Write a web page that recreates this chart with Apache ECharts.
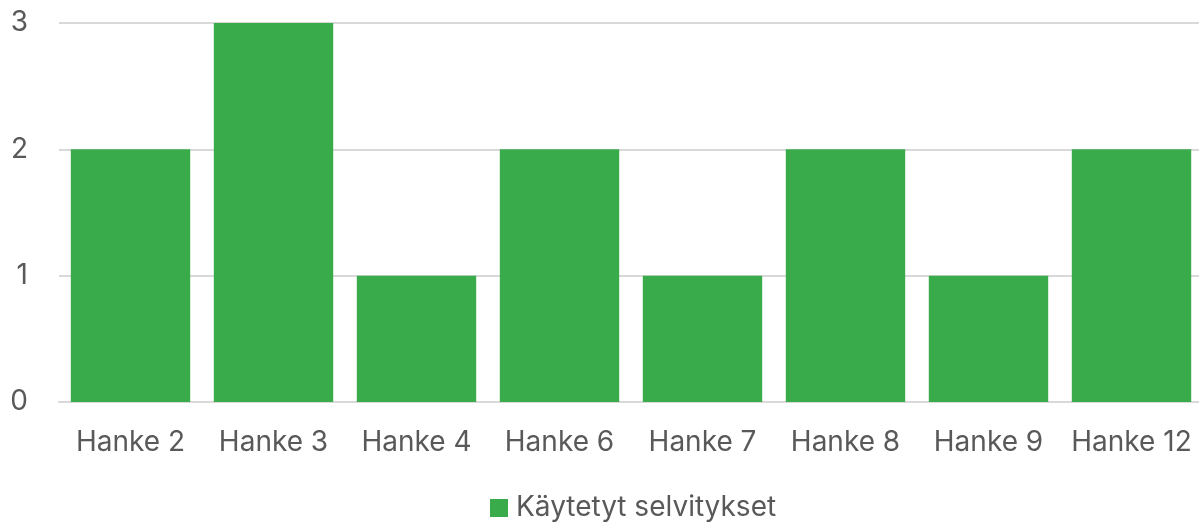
<!DOCTYPE html>
<html>
<head>
<meta charset="utf-8">
<script src="https://cdn.jsdelivr.net/npm/echarts@6/dist/echarts.min.js"></script>
<style>
  html, body { margin: 0; padding: 0; background: #fff; overflow: hidden; }
  #chart { width: 1203px; height: 523px; }
</style>
</head>
<body>
<div id="chart"></div>
<script>
var categories = ['Hanke 2', 'Hanke 3', 'Hanke 4', 'Hanke 6', 'Hanke 7', 'Hanke 8', 'Hanke 9', 'Hanke 12'];
var values = [2, 3, 1, 2, 1, 2, 1, 2];
var seriesName = 'Käytetyt selvitykset';

var chart = echarts.init(document.getElementById('chart'));
var textColor = '#595959';
var font = 'Inter, Roboto, "Noto Sans", sans-serif';

// plot runs a little past the right edge of the window, like the original
chart.setOption({
  animation: false,
  grid: { left: 59, right: 0, top: 23, height: 379, containLabel: false },
  legend: {
    top: 494,
    left: 490,
    padding: 0,
    itemWidth: 18,
    itemHeight: 18,
    itemGap: 10,
    icon: 'rect',
    textStyle: { color: textColor, fontSize: 28, fontFamily: font, padding: [0, 0, 0, 3] },
    data: [seriesName]
  },
  xAxis: {
    type: 'category',
    data: categories,
    axisLine: { show: true, lineStyle: { color: '#d9d9d9', width: 2 } },
    axisTick: { show: false },
    axisLabel: { color: textColor, fontSize: 28, fontFamily: font, margin: 27, interval: 0 }
  },
  yAxis: {
    type: 'value',
    min: 0,
    max: 3,
    interval: 1,
    axisLine: { show: false },
    axisTick: { show: false },
    splitLine: { lineStyle: { color: '#d9d9d9', width: 2 } },
    axisLabel: { color: textColor, fontSize: 28, fontFamily: font, margin: 31, align: 'right' }
  },
  series: [{
    name: seriesName,
    type: 'bar',
    data: values,
    barCategoryGap: '16.5%',
    itemStyle: { color: '#39ab4b' }
  }]
});
</script>
</body>
</html>
